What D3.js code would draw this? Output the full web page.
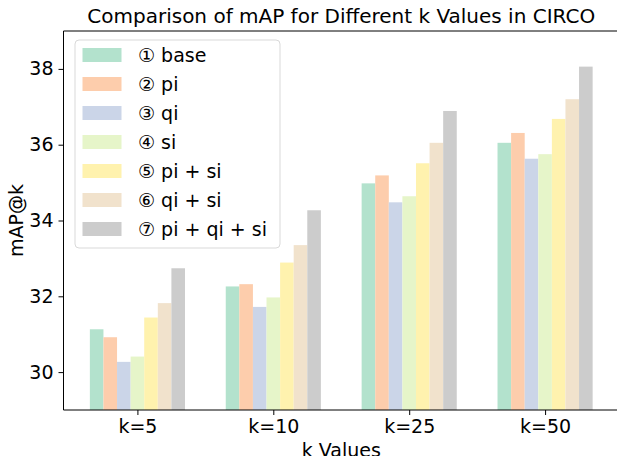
<!DOCTYPE html>
<html>
<head>
<meta charset="utf-8">
<script src="https://cdn.jsdelivr.net/npm/d3@7"></script>
<style>
  body { margin: 0; background: #fff; overflow: hidden; }
  svg { display: block; font-family: "DejaVu Sans", sans-serif; }
</style>
</head>
<body>
<div class="chart"></div>
<script>
// values
var categories = ['k=5', 'k=10', 'k=25', 'k=50'];
var seriesNames = ['① base', '② pi', '③ qi', '④ si', '⑤ pi + si', '⑥ qi + si', '⑦ pi + qi + si'];
var seriesColors = ['#b3e2cd', '#fdcdac', '#cbd5e8', '#e6f5c9', '#fff2ae', '#f1e2cc', '#cccccc'];

var base     = [31.13, 32.26, 34.98, 36.05];
var pi       = [30.92, 32.32, 35.19, 36.31];
var qi       = [30.27, 31.72, 34.48, 35.63];
var si       = [30.41, 31.97, 34.64, 35.75];
var piSi     = [31.44, 32.89, 35.51, 36.68];
var qiSi     = [31.82, 33.35, 36.05, 37.20];
var piQiSi   = [32.74, 34.27, 36.89, 38.06];

var yTicks = [30, 32, 34, 36, 38];

var series = [base, pi, qi, si, piSi, qiSi, piQiSi];

(function() {
  var W = 617, H = 456;
  // note: can't call this "top" at global scope (window.top)
  var plotLeft = 63.5, plotRight = 619, plotTop = 31, plotBottom = 410;
  var barWidth = 0.1;

  var svg = d3.select('.chart').append('svg')
    .attr('width', W)
    .attr('height', H);

  // matplotlib-like x limits: bars span -0.35..3.35 plus margins
  var x = d3.scaleLinear().domain([-0.544, 3.544]).range([plotLeft, plotRight]);
  var y = d3.scaleLinear().domain([29, 39]).range([plotBottom, plotTop]);

  // bars
  series.forEach(function(vals, j) {
    svg.append('g')
      .selectAll('rect')
      .data(vals)
      .enter()
      .append('rect')
      .attr('x', function(d, i) { return x(i + (j - 3) * barWidth - barWidth / 2); })
      .attr('width', x(barWidth) - x(0))
      .attr('y', function(d) { return y(d); })
      .attr('height', function(d) { return plotBottom - y(d); })
      .attr('fill', seriesColors[j]);
  });

  // spines (right one falls just outside the picture)
  svg.append('path')
    .attr('d', 'M' + W + ',' + plotTop + 'H' + plotLeft + 'V' + plotBottom + 'H' + W)
    .attr('fill', 'none')
    .attr('stroke', '#000')
    .attr('stroke-width', 1);

  // axes
  var xAxis = d3.axisBottom(x)
    .tickValues([0, 1, 2, 3])
    .tickFormat(function(d) { return categories[d]; })
    .tickSize(5).tickPadding(5).tickSizeOuter(0);
  var yAxis = d3.axisLeft(y)
    .tickValues(yTicks)
    .tickSize(5).tickPadding(5).tickSizeOuter(0);

  var gx = svg.append('g').attr('transform', 'translate(0,' + plotBottom + ')').call(xAxis);
  var gy = svg.append('g').attr('transform', 'translate(' + plotLeft + ',0)').call(yAxis);
  [gx, gy].forEach(function(g) {
    g.select('.domain').remove();
    g.selectAll('line').attr('stroke', '#000');
    g.selectAll('text')
      .attr('fill', '#000')
      .style('font-size', '19px')
      .style('font-family', '"DejaVu Sans", sans-serif');
  });

  // title and axis labels
  svg.append('text')
    .attr('x', (plotLeft + plotRight) / 2)
    .attr('y', 23)
    .attr('text-anchor', 'middle')
    .style('font-size', '20px')
    .text('Comparison of mAP for Different k Values in CIRCO');

  svg.append('text')
    .attr('x', (plotLeft + plotRight) / 2)
    .attr('y', 457)
    .attr('text-anchor', 'middle')
    .style('font-size', '19px')
    .text('k Values');

  svg.append('text')
    .attr('transform', 'translate(23,' + (plotTop + plotBottom) / 2 + ') rotate(-90)')
    .attr('text-anchor', 'middle')
    .style('font-size', '19px')
    .text('mAP@k');

  // legend
  var legend = svg.append('g').attr('transform', 'translate(75,40)');
  legend.append('rect')
    .attr('width', 205).attr('height', 208)
    .attr('rx', 4)
    .attr('fill', 'rgba(255,255,255,0.8)')
    .attr('stroke', '#d9d9d9')
    .attr('stroke-width', 1);

  var rows = legend.selectAll('g.row')
    .data(seriesNames)
    .enter()
    .append('g')
    .attr('class', 'row')
    .attr('transform', function(d, i) { return 'translate(0,' + (15 + i * 29) + ')'; });

  rows.append('rect')
    .attr('x', 7.5).attr('y', -7)
    .attr('width', 39).attr('height', 14)
    .attr('fill', function(d, i) { return seriesColors[i]; });

  rows.append('text')
    .attr('x', 63)
    .attr('y', 7)
    .style('font-size', '19px')
    .text(function(d) { return d; });
})();
</script>
</body>
</html>
